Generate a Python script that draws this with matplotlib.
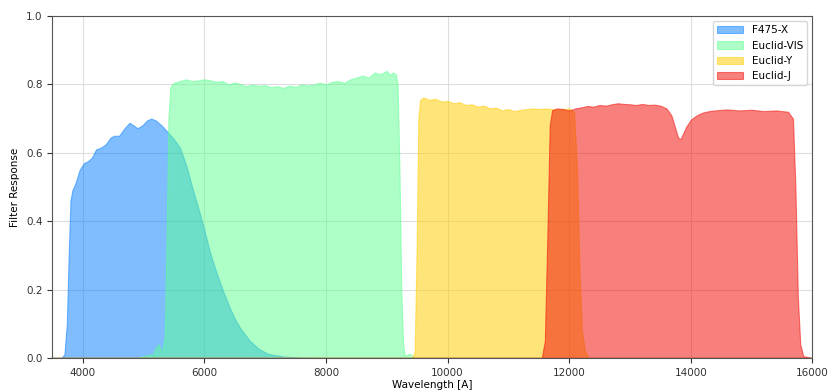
import numpy as np
import matplotlib.pyplot as plt

# filter curves (wavelength in Angstrom, response)
f475_wl = [3500, 3650, 3700, 3740, 3770, 3800, 3830, 3880, 3950, 4020, 4080, 4150, 4220,
           4300, 4380, 4460, 4520, 4600, 4680, 4770, 4840, 4900, 4980, 5060, 5130, 5200,
           5300, 5400, 5500, 5600, 5700, 5800, 5900, 6000, 6100, 6200, 6300, 6400, 6500,
           6600, 6750, 6900, 7050, 7300, 7600, 8000, 16000]
f475_resp = [0.0, 0.0, 0.01, 0.10, 0.30, 0.46, 0.49, 0.51, 0.55, 0.57, 0.575, 0.585, 0.61,
             0.615, 0.625, 0.645, 0.65, 0.65, 0.67, 0.688, 0.68, 0.672, 0.68, 0.695, 0.70, 0.695,
             0.68, 0.66, 0.64, 0.615, 0.565, 0.50, 0.44, 0.375, 0.305, 0.25, 0.20, 0.155, 0.115,
             0.085, 0.05, 0.026, 0.012, 0.004, 0.001, 0.0, 0.0]

vis_wl = [3500, 4900, 5000, 5100, 5150, 5200, 5250, 5300, 5350, 5380, 5410, 5440, 5470,
          5500, 5600, 5700, 5800, 5900, 6000, 6100, 6200, 6300, 6400, 6500, 6600, 6700,
          6800, 6900, 7000, 7100, 7200, 7300, 7400, 7500, 7600, 7700, 7800, 7900, 8000,
          8100, 8200, 8300, 8400, 8500, 8600, 8700, 8800, 8900, 9000, 9050, 9100, 9150,
          9180, 9210, 9240, 9270, 9300, 9340, 9380, 9420, 9460, 16000]
vis_resp = [0.0, 0.0, 0.005, 0.01, 0.008, 0.03, 0.04, 0.015, 0.06, 0.35, 0.70, 0.79, 0.80,
            0.805, 0.81, 0.815, 0.81, 0.812, 0.815, 0.812, 0.808, 0.81, 0.80, 0.806, 0.80, 0.795,
            0.80, 0.796, 0.798, 0.792, 0.795, 0.79, 0.797, 0.793, 0.80, 0.797, 0.80, 0.805, 0.80,
            0.808, 0.81, 0.805, 0.815, 0.82, 0.826, 0.82, 0.835, 0.83, 0.84, 0.828, 0.835, 0.83,
            0.80, 0.55, 0.20, 0.04, 0.005, 0.01, 0.012, 0.006, 0.0, 0.0]

y_wl = [3500, 9420, 9460, 9490, 9520, 9550, 9600, 9700, 9800, 9900, 10000, 10100, 10200,
        10300, 10400, 10500, 10600, 10700, 10800, 10900, 11000, 11100, 11200, 11300, 11400,
        11500, 11600, 11700, 11800, 11900, 12000, 12080, 12130, 12170, 12210, 12260, 12320, 16000]
y_resp = [0.0, 0.0, 0.02, 0.30, 0.70, 0.755, 0.762, 0.755, 0.758, 0.75, 0.752, 0.745, 0.748,
          0.74, 0.742, 0.735, 0.738, 0.73, 0.732, 0.724, 0.728, 0.722, 0.726, 0.728, 0.73,
          0.728, 0.73, 0.728, 0.726, 0.728, 0.73, 0.72, 0.55, 0.25, 0.08, 0.02, 0.0, 0.0]

j_wl = [3500, 11550, 11600, 11640, 11680, 11720, 11800, 11900, 12000, 12100, 12200, 12300,
        12400, 12500, 12600, 12700, 12800, 12900, 13000, 13100, 13200, 13300, 13400, 13500,
        13600, 13680, 13740, 13790, 13830, 13870, 13920, 14000, 14100, 14200, 14300, 14450,
        14600, 14800, 15000, 15200, 15400, 15600, 15680, 15720, 15760, 15800, 15850, 16000]
j_resp = [0.0, 0.0, 0.05, 0.35, 0.68, 0.725, 0.73, 0.728, 0.724, 0.73, 0.733, 0.737,
          0.735, 0.74, 0.738, 0.742, 0.745, 0.743, 0.742, 0.74, 0.743, 0.74, 0.741, 0.738,
          0.73, 0.71, 0.675, 0.645, 0.64, 0.655, 0.675, 0.697, 0.71, 0.718, 0.722, 0.725,
          0.727, 0.724, 0.726, 0.722, 0.724, 0.72, 0.70, 0.50, 0.18, 0.04, 0.005, 0.0]

labels = ["F475-X", "Euclid-VIS", "Euclid-Y", "Euclid-J"]
colors = ["#007DFF", "#5DFF91", "#FFCD00", "#F00F08"]
alphas = [0.5, 0.5, 0.52, 0.53]

fig = plt.figure(figsize=(8.29, 3.92), dpi=100)
ax = fig.add_axes([0.063, 0.087, 0.917, 0.872])

curves = [(f475_wl, f475_resp), (vis_wl, vis_resp), (y_wl, y_resp), (j_wl, j_resp)]
for (wl, resp), lab, c, a in zip(curves, labels, colors, alphas):
    ax.fill_between(wl, resp, color=c, alpha=a, label=lab, lw=0.8)

ax.set_xlim(3500, 16000)
ax.set_ylim(0, 1)
ax.set_xticks([4000, 6000, 8000, 10000, 12000, 14000, 16000])
ax.set_yticks([0.0, 0.2, 0.4, 0.6, 0.8, 1.0])
ax.grid(True, color="#dddddd", lw=0.8)
ax.set_axisbelow(True)
ax.tick_params(labelsize=7.5, colors="#333333")
ax.set_xlabel("Wavelength [A]", fontsize=7.5, labelpad=2)
ax.set_ylabel("Filter Response", fontsize=7.5)
for s in ax.spines.values():
    s.set_color("#555555")
ax.legend(loc="upper right", fontsize=7.5, handlelength=2.5)

fig.savefig("out.png", dpi=100)
